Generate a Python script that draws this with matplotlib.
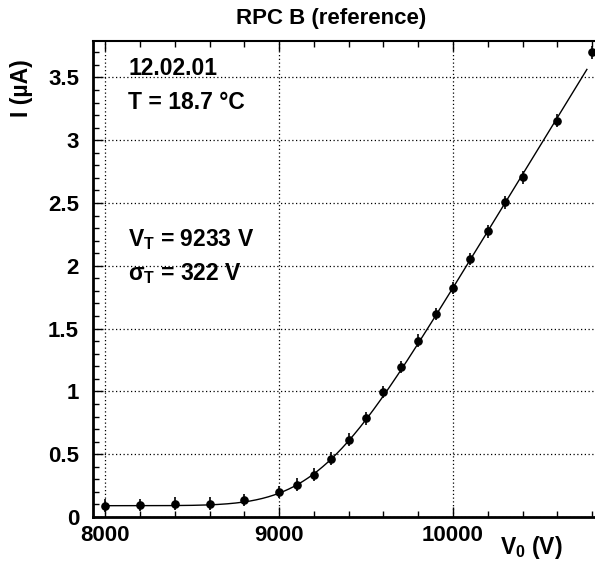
import math
import numpy as np
import matplotlib
matplotlib.use('Agg')
import matplotlib.pyplot as plt
from matplotlib.ticker import MultipleLocator

plt.rcParams['font.family'] = ['Liberation Sans', 'DejaVu Sans']
plt.rcParams['font.weight'] = 'bold'
plt.rcParams['mathtext.fontset'] = 'custom'
plt.rcParams['mathtext.rm'] = 'Liberation Sans:bold'
plt.rcParams['mathtext.it'] = 'Liberation Sans:bold'
plt.rcParams['mathtext.bf'] = 'Liberation Sans:bold'

# measured points: high voltage (V) vs current (uA)
V0 = [8000, 8200, 8400, 8600, 8800, 9000, 9100, 9200, 9300, 9400, 9500,
      9600, 9700, 9800, 9900, 10000, 10100, 10200, 10300, 10400, 10600, 10800]
I_uA = [0.090, 0.095, 0.106, 0.106, 0.135, 0.199, 0.257, 0.337, 0.464, 0.615, 0.785,
        0.995, 1.194, 1.404, 1.616, 1.825, 2.054, 2.274, 2.505, 2.704, 3.155, 3.700]
I_err = [0.05] * len(V0)

# fit parameters (threshold model), V_T and sigma_T from the plot legend
V_T = 9233.0
sigma_T = 322.0
I_offset = 0.09
slope = 0.00226
fit_range = (8000, 10770)


def fit_func(v):
    z = (v - V_T) / sigma_T
    phi = math.exp(-0.5 * z * z) / math.sqrt(2 * math.pi)
    Phi = 0.5 * (1 + math.erf(z / math.sqrt(2)))
    return I_offset + slope * (sigma_T * phi + (v - V_T) * Phi)


vfit = np.linspace(fit_range[0], fit_range[1], 400)
ifit = [fit_func(v) for v in vfit]

fig = plt.figure(figsize=(5.95, 5.63), dpi=100)
ax = fig.add_axes([93 / 595, 1 - 517 / 563, (594 - 93) / 595, (517 - 41) / 563])

ax.plot(vfit, ifit, color='black', lw=1.0, zorder=3)
ax.errorbar(V0, I_uA, yerr=I_err, fmt='o', color='black', ms=5.2,
            elinewidth=1.2, capsize=0, zorder=4, clip_on=False)

ax.set_xlim(7929, 10811)
ax.set_ylim(0, 3.79)
ax.xaxis.set_minor_locator(MultipleLocator(200))
ax.yaxis.set_minor_locator(MultipleLocator(0.1))
ax.set_xticks([8000, 9000, 10000])
ax.set_xticklabels(['8000', '9000', '10000'])
ax.set_yticks([0, 0.5, 1, 1.5, 2, 2.5, 3, 3.5])
ax.set_yticklabels(['0', '0.5', '1', '1.5', '2', '2.5', '3', '3.5'])

ax.tick_params(which='both', direction='in', top=True, right=False, width=1.0)
ax.tick_params(which='major', length=7, labelsize=16)
ax.tick_params(which='minor', length=4.5)
ax.tick_params(axis='x', which='major', pad=6)
ax.tick_params(axis='y', which='major', pad=10)

ax.grid(True, which='major', color='black', linestyle=(0, (1, 2)), lw=0.9)
for s in ['left', 'bottom']:
    ax.spines[s].set_linewidth(2.0)
ax.spines['top'].set_linewidth(1.5)
ax.spines['right'].set_visible(False)

fig.text(331 / 595, 1 - 24 / 563, 'RPC B (reference)', ha='center', va='baseline',
         fontsize=16, fontweight='bold')
fig.text(563 / 595, 1 - 554 / 563, r'$V_0$ (V)', ha='right', va='baseline',
         fontsize=16.5, fontweight='bold')
fig.text(33 / 595, 1 - 59 / 563, 'I (µA)', ha='right', va='top', rotation=90,
         fontsize=16.5, fontweight='bold')

for label, yb in [('12.02.01', 75), ('T = 18.7 °C', 109),
                  (r'$V_T$ = 9233 V', 246), (r'$\sigma_T$ = 322 V', 280)]:
    fig.text(128 / 595, 1 - yb / 563, label, ha='left', va='baseline',
             fontsize=16.5, fontweight='bold')

fig.savefig('out.png', dpi=100)
